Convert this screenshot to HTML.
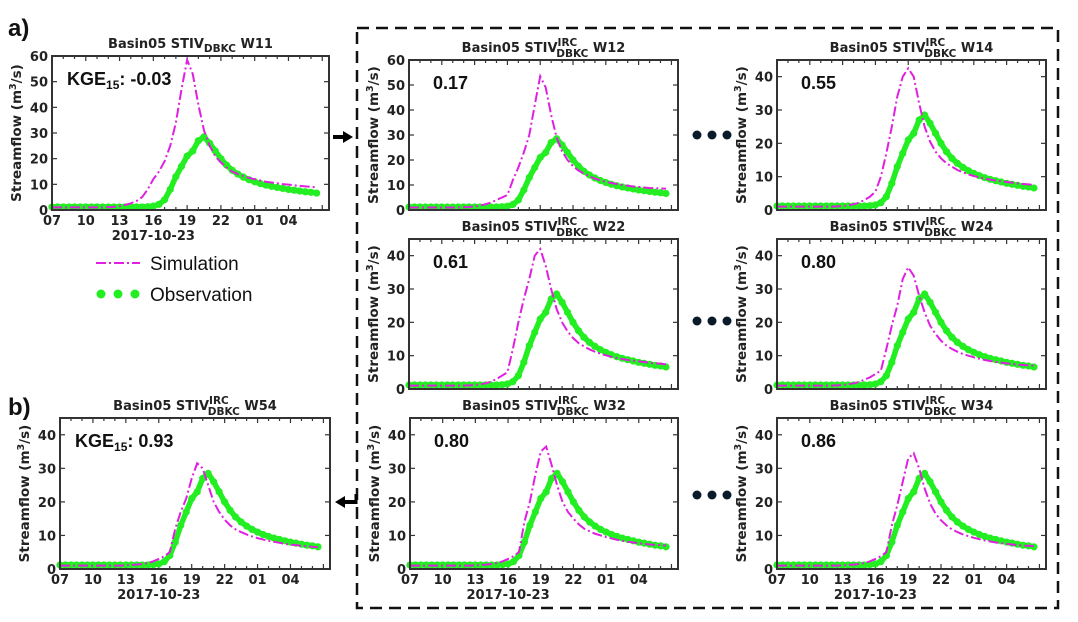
<!DOCTYPE html>
<html><head><meta charset="utf-8"><style>
html,body{margin:0;padding:0;background:#fff;}
svg{display:block;font-family:"Liberation Sans","DejaVu Sans",sans-serif;}
.t{font-weight:bold;fill:#222;font-family:"DejaVu Sans","Liberation Sans",sans-serif;}
.k{font-weight:bold;fill:#111;font-family:"Liberation Sans",sans-serif;}
</style></head><body>
<svg id="fig" width="1078" height="622" viewBox="0 0 1078 622" xmlns="http://www.w3.org/2000/svg">
<rect x="357" y="28" width="701" height="580" fill="none" stroke="#111" stroke-width="2.5" stroke-dasharray="12,7"/>
<text x="8" y="36" font-size="24" class="k" fill="#000">a)</text>
<text x="8" y="415" font-size="24" class="k" fill="#000">b)</text>
<g>
<line x1="96" y1="263" x2="140" y2="263" stroke="#e020e0" stroke-width="2" stroke-dasharray="10,3,2,3"/>
<text x="150" y="270" font-size="19" fill="#111">Simulation</text>
<g fill="#22ee22"><circle cx="101" cy="294" r="4.5"/><circle cx="118" cy="294" r="4.5"/><circle cx="135" cy="294" r="4.5"/></g>
<text x="150" y="301" font-size="19" fill="#111">Observation</text>
</g>
<g><line x1="333" y1="137" x2="345" y2="137" stroke="#000" stroke-width="4"/><polygon points="343,131 353,137 343,143" fill="#000"/></g>
<g><line x1="345" y1="502" x2="357" y2="502" stroke="#000" stroke-width="4"/><polygon points="345,496 335,502 345,508" fill="#000"/><line x1="356" y1="494" x2="356" y2="504" stroke="#000" stroke-width="3"/></g>
<g fill="#0a1a2a"><circle cx="697" cy="135" r="4.5"/><circle cx="712" cy="135" r="4.5"/><circle cx="727" cy="135" r="4.5"/></g>
<g fill="#0a1a2a"><circle cx="697" cy="321" r="4.5"/><circle cx="712" cy="321" r="4.5"/><circle cx="727" cy="321" r="4.5"/></g>
<g fill="#0a1a2a"><circle cx="697" cy="495" r="4.5"/><circle cx="712" cy="495" r="4.5"/><circle cx="727" cy="495" r="4.5"/></g>
</svg>
<script>
// hours since 07:00 on 2017-10-22, 0.5 h step
const hours = Array.from({length:48},(_,i)=>i*0.5);
const xTickLabels = ["07","10","13","16","19","22","01","04"];
const obs = [1.2,1.2,1.2,1.2,1.2,1.2,1.2,1.2,1.2,1.2,1.2,1.2,1.2,1.2,1.2,1.2,1.2,
 1.3,1.5,2.2,4,8,13,17,21,23,27,28.5,26,23,20,17.5,15.5,14,12.8,11.8,11,10.3,9.7,9.2,8.8,8.4,8.0,7.7,7.4,7.1,6.9,6.6];
const flat = [1,1,1,1,1,1,1,1,1,1];
const simW11 = flat.concat([1.1,1.2,1.5,2.0,2.6,3.5,5,8,12,15,19,25,34,47,58.5,53,41,31,25,21,18.5,16.5,15,14,13.2,12.5,12,11.5,11,10.7,10.4,10.1,9.9,9.6,9.4,9.2,9,8.8]);
const simW12 = flat.concat([1.1,1.2,1.4,1.8,2.3,3,4,5,6,12,17,23,30,42,53.5,49,38,29,23.5,20,17.5,15.8,14.5,13.5,12.6,11.9,11.3,10.8,10.4,10,9.7,9.4,9.2,9,8.8,8.7,8.6,8.5]);
const simW14 = flat.concat([1,1.1,1.2,1.4,1.7,2.2,3,4,5.5,10,17,25,34,40,42.5,40,32,25,20.5,17.5,15.5,14,13,12,11.3,10.7,10.2,9.8,9.4,9.1,8.8,8.6,8.4,8.2,8,7.8,7.7,7.5]);
const simW22 = flat.concat([1,1.1,1.2,1.4,1.7,2.2,3,4,5,12,20,27,33,40,42,37,30,24,20,17.3,15.3,13.8,12.8,11.9,11.2,10.6,10.1,9.7,9.3,9,8.7,8.5,8.3,8.1,7.9,7.7,7.6,7.4]);
const simW24 = flat.concat([1,1.1,1.2,1.4,1.7,2.1,2.8,3.5,4.5,5.5,12,19,25,33,36.5,34,28,23,19,16.5,14.5,13,12,11.2,10.5,10,9.5,9.1,8.7,8.4,8.1,7.9,7.7,7.5,7.3,7.2,7.1,7]);
const simW32 = flat.concat([1,1,1.1,1.2,1.3,1.5,1.8,2.3,3,3.8,5,14,20,28,35,36.5,31,25,20,17,15,13.3,12,11.2,10.5,10,9.5,9.1,8.7,8.4,8.1,7.9,7.7,7.5,7.3,7.2,7.1,7]);
const simW34 = flat.concat([1,1,1.1,1.2,1.3,1.5,1.8,2.3,3,3.8,5,13,19,26,33,34.5,30,24,19.5,16.5,14.5,13,11.8,11,10.3,9.8,9.3,8.9,8.5,8.2,7.9,7.7,7.5,7.3,7.1,7,6.9,6.8]);
const simW54 = flat.concat([1,1,1.1,1.2,1.3,1.5,1.8,2.3,3,3.8,5,12,17,21,27,31.5,30,25,20,17,14.7,13,11.8,11,10.3,9.7,9.2,8.8,8.4,8.1,7.8,7.5,7.3,7.1,6.9,6.8,6.6,6.5]);
const kgeLabels = ["-0.03","0.17","0.55","0.61","0.80","0.80","0.86","0.93"];

const NS="http://www.w3.org/2000/svg";
const svg=document.getElementById('fig');
function mk(tag,attrs,parent){const e=document.createElementNS(NS,tag);for(const k in attrs)e.setAttribute(k,attrs[k]);(parent||svg).appendChild(e);return e;}

const panels=[
 {id:"w11",w:"W11",irc:false,x0:52,x1:329,y0:56,y1:210,ymax:60,sim:simW11,k:0,kge:true,xl:true},
 {id:"w12",w:"W12",irc:true,x0:409,x1:678,y0:60,y1:210,ymax:60,sim:simW12,k:1,kge:false,xl:false},
 {id:"w14",w:"W14",irc:true,x0:777,x1:1046,y0:60,y1:210,ymax:45,sim:simW14,k:2,kge:false,xl:false},
 {id:"w22",w:"W22",irc:true,x0:409,x1:678,y0:239,y1:389,ymax:45,sim:simW22,k:3,kge:false,xl:false},
 {id:"w24",w:"W24",irc:true,x0:777,x1:1046,y0:239,y1:389,ymax:45,sim:simW24,k:4,kge:false,xl:false},
 {id:"w32",w:"W32",irc:true,x0:410,x1:678,y0:418,y1:569,ymax:45,sim:simW32,k:5,kge:false,xl:true},
 {id:"w34",w:"W34",irc:true,x0:777,x1:1046,y0:418,y1:569,ymax:45,sim:simW34,k:6,kge:false,xl:true},
 {id:"w54",w:"W54",irc:true,x0:60,x1:330,y0:418,y1:569,ymax:45,sim:simW54,k:7,kge:true,xl:true}
];
const XMAX=24.6;
panels.forEach(p=>{
 const g=mk('g',{});
 
 
 const xs=h=>p.x0+(p.x1-p.x0)*h/XMAX;
 const ys=v=>p.y1-(p.y1-p.y0)*v/p.ymax;
 const cx=(p.x0+p.x1)/2;
 const tt=mk('text',{x:cx,y:p.y0-8,'font-size':13,'text-anchor':'middle',class:'t'},g);
 
 
 tt.innerHTML='Basin05 STIV'+(p.irc?'<tspan font-size="10.5" dy="-6">IRC</tspan><tspan font-size="10.5" dx="-21" dy="11">DBKC</tspan><tspan dy="-5"> '+p.w+'</tspan>':'<tspan font-size="10.5" dy="4">DBKC</tspan><tspan dy="-4"> '+p.w+'</tspan>');
 for(let h=0;h<=24;h++){
  const x=xs(h),L=(h%3===0)?5:3;
  mk('line',{x1:x,y1:p.y1,x2:x,y2:p.y1-L,stroke:'#333','stroke-width':1.2},g);
  mk('line',{x1:x,y1:p.y0,x2:x,y2:p.y0+L,stroke:'#333','stroke-width':1.2},g);
 }
 if(p.xl){xTickLabels.forEach((lab,i)=>{
  const t=mk('text',{x:xs(i*3),y:p.y1+15,'font-size':13,'text-anchor':'middle',class:'t'},g);
  
  
  t.textContent=lab;});
  const d=mk('text',{x:xs(9),y:p.y1+30,'font-size':13,'text-anchor':'middle',class:'t'},g);
  
  
  d.textContent='2017-10-23';
 }
 for(let v=0;v<=p.ymax;v+=10){
  const y=ys(v);
  mk('line',{x1:p.x0,y1:y,x2:p.x0+5,y2:y,stroke:'#333','stroke-width':1.2},g);
  mk('line',{x1:p.x1,y1:y,x2:p.x1-5,y2:y,stroke:'#333','stroke-width':1.2},g);
  const t=mk('text',{x:p.x0-4,y:y+5,'font-size':13,'text-anchor':'end',class:'t'},g);
  
  
  t.textContent=v;
 }
 const yl=mk('text',{x:0,y:0,'font-size':13.5,'text-anchor':'middle',class:'t',transform:`translate(${p.x0-31},${(p.y0+p.y1)/2}) rotate(-90)`},g);
 
 
 yl.innerHTML='Streamflow (m<tspan font-size="9.5" dy="-5">3</tspan><tspan dy="5">/s)</tspan>';
 const op=obs.map((v,i)=>xs(hours[i])+','+ys(v)).join(' ');
 const ol=mk('polyline',{points:op,fill:'none',stroke:'#22ee22','stroke-width':5.5,'stroke-linejoin':'round','stroke-linecap':'round'},g);
 
 
 obs.forEach((v,i)=>{const c=mk('circle',{cx:xs(hours[i]),cy:ys(v),r:3.6,fill:'#22ee22'},g);
  
  });
 const sp=p.sim.map((v,i)=>xs(hours[i])+','+ys(v)).join(' ');
 const sl=mk('polyline',{points:sp,fill:'none',stroke:'#e020e0','stroke-width':2,'stroke-dasharray':'10,3,2,3'},g);
 
 
 const fr=mk('rect',{x:p.x0,y:p.y0,width:p.x1-p.x0,height:p.y1-p.y0,fill:'none',stroke:'#333','stroke-width':2},g);
 
 
 const kt=mk('text',{x:p.x0+(p.kge?15:24),y:p.y0+29,'font-size':18,class:'k'},g);
 
 
 kt.innerHTML=p.kge?'KGE<tspan font-size="12" dy="4">15</tspan><tspan dy="-4">: '+kgeLabels[p.k]+'</tspan>':kgeLabels[p.k];
});
</script>
</body></html>
